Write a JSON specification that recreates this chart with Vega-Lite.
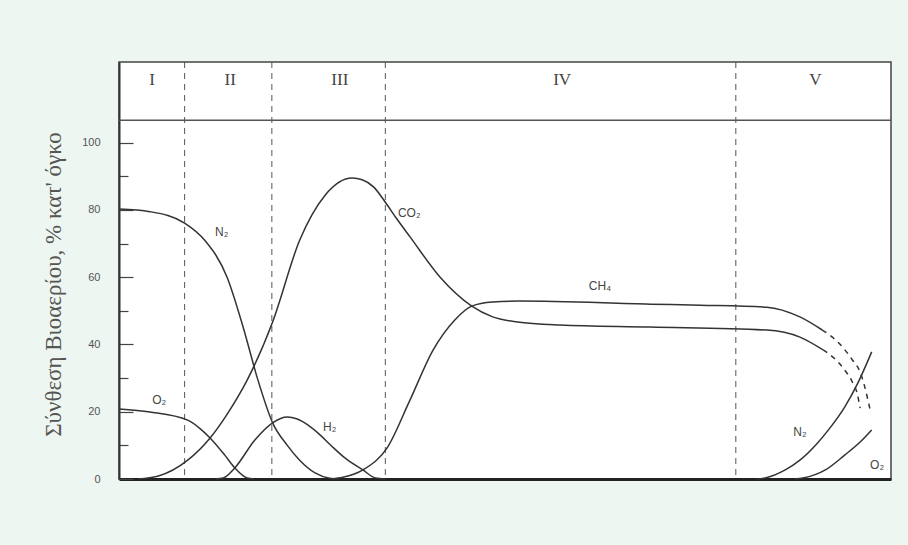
{
  "$schema": "https://vega.github.io/schema/vega-lite/v6.json",
  "width": 772,
  "height": 417,
  "autosize": {"type": "none"},
  "padding": {"left": 119, "top": 62, "right": 17, "bottom": 66},
  "background": "#edf6f0",
  "config": {
    "view": {"stroke": "#444", "strokeWidth": 1.5, "fill": "white"},
    "axis": {"grid": false},
    "axisX": {"labels": false, "ticks": false, "domainWidth": 3, "domainColor": "#222", "title": null},
    "axisY": {"domainWidth": 2, "domainColor": "#333", "labelColor": "#555", "labelFont": "Liberation Sans", "labelFontSize": 11, "tickColor": "#444", "tickWidth": 1.2}
  },
  "datasets": {
    "curves": [
      {"curve": "O2 start", "part": "measured", "x": 0, "y": 20.8},
      {"curve": "O2 start", "part": "measured", "x": 4, "y": 19.9},
      {"curve": "O2 start", "part": "measured", "x": 8.9, "y": 17.5},
      {"curve": "O2 start", "part": "measured", "x": 10.5, "y": 15.0},
      {"curve": "O2 start", "part": "measured", "x": 11.8, "y": 12.2},
      {"curve": "O2 start", "part": "measured", "x": 13.7, "y": 7.1},
      {"curve": "O2 start", "part": "measured", "x": 15.0, "y": 3.3},
      {"curve": "O2 start", "part": "measured", "x": 16.6, "y": 0.3},
      {"curve": "O2 start", "part": "measured", "x": 17.5, "y": 0},

      {"curve": "N2 start", "part": "measured", "x": 0, "y": 80.3},
      {"curve": "N2 start", "part": "measured", "x": 4, "y": 79.5},
      {"curve": "N2 start", "part": "measured", "x": 8.5, "y": 76.1},
      {"curve": "N2 start", "part": "measured", "x": 11.1, "y": 71},
      {"curve": "N2 start", "part": "measured", "x": 14.0, "y": 60},
      {"curve": "N2 start", "part": "measured", "x": 16.1, "y": 45},
      {"curve": "N2 start", "part": "measured", "x": 18.0, "y": 29.4},
      {"curve": "N2 start", "part": "measured", "x": 19.9, "y": 16.7},
      {"curve": "N2 start", "part": "measured", "x": 21.8, "y": 10},
      {"curve": "N2 start", "part": "measured", "x": 23.4, "y": 5.6},
      {"curve": "N2 start", "part": "measured", "x": 25.4, "y": 1.8},
      {"curve": "N2 start", "part": "measured", "x": 27.3, "y": 0.2},
      {"curve": "N2 start", "part": "measured", "x": 28.5, "y": 0},

      {"curve": "CO2", "part": "measured", "x": 2.5, "y": 0},
      {"curve": "CO2", "part": "measured", "x": 5, "y": 0.8},
      {"curve": "CO2", "part": "measured", "x": 8.9, "y": 5.6},
      {"curve": "CO2", "part": "measured", "x": 11.8, "y": 12.2},
      {"curve": "CO2", "part": "measured", "x": 14.1, "y": 19.6},
      {"curve": "CO2", "part": "measured", "x": 16.6, "y": 29.4},
      {"curve": "CO2", "part": "measured", "x": 19.9, "y": 46.7},
      {"curve": "CO2", "part": "measured", "x": 23.4, "y": 71},
      {"curve": "CO2", "part": "measured", "x": 26.7, "y": 84.4},
      {"curve": "CO2", "part": "measured", "x": 30.2, "y": 89.5},
      {"curve": "CO2", "part": "measured", "x": 31.5, "y": 89.0},
      {"curve": "CO2", "part": "measured", "x": 33.0, "y": 86.8},
      {"curve": "CO2", "part": "measured", "x": 34.5, "y": 82.3},
      {"curve": "CO2", "part": "measured", "x": 36.0, "y": 77.3},
      {"curve": "CO2", "part": "measured", "x": 37.7, "y": 72},
      {"curve": "CO2", "part": "measured", "x": 41.6, "y": 60},
      {"curve": "CO2", "part": "measured", "x": 45.7, "y": 51.4},
      {"curve": "CO2", "part": "measured", "x": 48.4, "y": 48.2},
      {"curve": "CO2", "part": "measured", "x": 51.6, "y": 46.7},
      {"curve": "CO2", "part": "measured", "x": 57.1, "y": 45.8},
      {"curve": "CO2", "part": "measured", "x": 68.8, "y": 45.2},
      {"curve": "CO2", "part": "measured", "x": 83.9, "y": 44.3},
      {"curve": "CO2", "part": "measured", "x": 88.2, "y": 42.2},
      {"curve": "CO2", "part": "measured", "x": 91.2, "y": 38.4},
      {"curve": "CO2", "part": "extrapolated", "x": 91.2, "y": 38.4},
      {"curve": "CO2", "part": "extrapolated", "x": 92.6, "y": 36.0},
      {"curve": "CO2", "part": "extrapolated", "x": 93.8, "y": 33.0},
      {"curve": "CO2", "part": "extrapolated", "x": 95.0, "y": 28.8},
      {"curve": "CO2", "part": "extrapolated", "x": 95.6, "y": 25.6},
      {"curve": "CO2", "part": "extrapolated", "x": 96.0, "y": 21.1},

      {"curve": "H2", "part": "measured", "x": 12.5, "y": 0},
      {"curve": "H2", "part": "measured", "x": 13.5, "y": 0.3},
      {"curve": "H2", "part": "measured", "x": 15.0, "y": 3.3},
      {"curve": "H2", "part": "measured", "x": 17.6, "y": 11.6},
      {"curve": "H2", "part": "measured", "x": 19.9, "y": 16.7},
      {"curve": "H2", "part": "measured", "x": 21.8, "y": 18.4},
      {"curve": "H2", "part": "measured", "x": 23.0, "y": 17.9},
      {"curve": "H2", "part": "measured", "x": 24.5, "y": 16.0},
      {"curve": "H2", "part": "measured", "x": 26.0, "y": 13.2},
      {"curve": "H2", "part": "measured", "x": 27.5, "y": 9.9},
      {"curve": "H2", "part": "measured", "x": 29.3, "y": 6.2},
      {"curve": "H2", "part": "measured", "x": 31.6, "y": 2.7},
      {"curve": "H2", "part": "measured", "x": 33.2, "y": 0.3},
      {"curve": "H2", "part": "measured", "x": 34.5, "y": 0},

      {"curve": "CH4", "part": "measured", "x": 27.5, "y": 0},
      {"curve": "CH4", "part": "measured", "x": 29.0, "y": 0.5},
      {"curve": "CH4", "part": "measured", "x": 31.6, "y": 2.7},
      {"curve": "CH4", "part": "measured", "x": 34.8, "y": 9.5},
      {"curve": "CH4", "part": "measured", "x": 37.6, "y": 23},
      {"curve": "CH4", "part": "measured", "x": 40.7, "y": 38.4},
      {"curve": "CH4", "part": "measured", "x": 43.5, "y": 47.3},
      {"curve": "CH4", "part": "measured", "x": 45.7, "y": 51.4},
      {"curve": "CH4", "part": "measured", "x": 48.4, "y": 52.6},
      {"curve": "CH4", "part": "measured", "x": 51.9, "y": 52.9},
      {"curve": "CH4", "part": "measured", "x": 68.8, "y": 52.0},
      {"curve": "CH4", "part": "measured", "x": 75.3, "y": 51.7},
      {"curve": "CH4", "part": "measured", "x": 83.9, "y": 51.1},
      {"curve": "CH4", "part": "measured", "x": 88.2, "y": 48.2},
      {"curve": "CH4", "part": "measured", "x": 91.1, "y": 44.3},
      {"curve": "CH4", "part": "extrapolated", "x": 91.1, "y": 44.3},
      {"curve": "CH4", "part": "extrapolated", "x": 92.4, "y": 42.2},
      {"curve": "CH4", "part": "extrapolated", "x": 93.7, "y": 39.3},
      {"curve": "CH4", "part": "extrapolated", "x": 95.0, "y": 35.4},
      {"curve": "CH4", "part": "extrapolated", "x": 96.0, "y": 31.8},
      {"curve": "CH4", "part": "extrapolated", "x": 96.6, "y": 27.4},
      {"curve": "CH4", "part": "extrapolated", "x": 97.3, "y": 20.5},

      {"curve": "N2 end", "part": "measured", "x": 82.5, "y": 0},
      {"curve": "N2 end", "part": "measured", "x": 83.7, "y": 0.3},
      {"curve": "N2 end", "part": "measured", "x": 86.3, "y": 2.7},
      {"curve": "N2 end", "part": "measured", "x": 88.2, "y": 5.6},
      {"curve": "N2 end", "part": "measured", "x": 90.4, "y": 10.5},
      {"curve": "N2 end", "part": "measured", "x": 92.1, "y": 15.2},
      {"curve": "N2 end", "part": "measured", "x": 94.0, "y": 21.4},
      {"curve": "N2 end", "part": "measured", "x": 95.7, "y": 28.5},
      {"curve": "N2 end", "part": "measured", "x": 97.5, "y": 37.8},

      {"curve": "O2 end", "part": "measured", "x": 87.5, "y": 0},
      {"curve": "O2 end", "part": "measured", "x": 88.6, "y": 0.3},
      {"curve": "O2 end", "part": "measured", "x": 91.5, "y": 2.7},
      {"curve": "O2 end", "part": "measured", "x": 94.0, "y": 7.1},
      {"curve": "O2 end", "part": "measured", "x": 96.0, "y": 11.0},
      {"curve": "O2 end", "part": "measured", "x": 97.5, "y": 14.6}
    ],
    "gasLabels": [
      {"label": "O₂", "x": 5.2, "y": 23.5},
      {"label": "N₂", "x": 13.3, "y": 73.4},
      {"label": "H₂", "x": 27.3, "y": 15.5},
      {"label": "CO₂", "x": 37.6, "y": 79.1},
      {"label": "CH₄", "x": 62.3, "y": 57.4},
      {"label": "N₂", "x": 88.2, "y": 14.0},
      {"label": "O₂", "x": 98.2, "y": 4.2}
    ],
    "phases": [
      {"phase": "I", "x": 4.3, "y": 118.6},
      {"phase": "II", "x": 14.4, "y": 118.6},
      {"phase": "III", "x": 28.6, "y": 118.6},
      {"phase": "IV", "x": 57.4, "y": 118.6},
      {"phase": "V", "x": 90.2, "y": 118.6}
    ],
    "boundaries": [
      {"boundary": 8.5},
      {"boundary": 19.8},
      {"boundary": 34.5},
      {"boundary": 79.9}
    ],
    "header": [{"level": 106.7}]
  },
  "layer": [
    {
      "data": {"name": "boundaries"},
      "mark": {"type": "rule", "strokeDash": [6, 5], "color": "#555", "strokeWidth": 1},
      "encoding": {
        "x": {"field": "boundary", "type": "quantitative", "scale": {"domain": [0, 100], "nice": false, "zero": false}, "title": null}
      }
    },
    {
      "data": {"name": "header"},
      "mark": {"type": "rule", "color": "#555", "strokeWidth": 1.5},
      "encoding": {
        "y": {"field": "level", "type": "quantitative", "scale": {"domain": [0, 124], "nice": false}, "title": "Σύνθεση Βιοαερίου, % κατ' όγκο"}
      }
    },
    {
      "data": {"name": "curves"},
      "transform": [{"filter": "datum.part === 'measured'"}],
      "mark": {"type": "line", "interpolate": "monotone", "color": "#333", "strokeWidth": 1.5},
      "encoding": {
        "x": {"field": "x", "type": "quantitative", "scale": {"domain": [0, 100], "nice": false, "zero": false}, "title": null},
        "y": {
          "field": "y", "type": "quantitative", "scale": {"domain": [0, 124], "nice": false},
          "title": "Σύνθεση Βιοαερίου, % κατ' όγκο",
          "axis": {
            "values": [0, 10, 20, 30, 40, 50, 60, 70, 80, 90, 100],
            "labelExpr": "datum.value % 20 === 0 ? datum.label : ''",
            "tickSize": {"condition": {"test": "datum.value % 20 === 0", "value": -14}, "value": -9},
            "labelPadding": 33,
            "titleFont": "Liberation Serif",
            "titleFontSize": 23,
            "titleFontWeight": "normal",
            "titleColor": "#555",
            "titleX": -54,
            "titleY": 222
          }
        },
        "detail": {"field": "curve", "type": "nominal"}
      }
    },
    {
      "data": {"name": "curves"},
      "transform": [{"filter": "datum.part === 'extrapolated'"}],
      "mark": {"type": "line", "interpolate": "monotone", "color": "#333", "strokeWidth": 1.5, "strokeDash": [5, 5]},
      "encoding": {
        "x": {"field": "x", "type": "quantitative", "scale": {"domain": [0, 100], "nice": false, "zero": false}, "title": null},
        "y": {"field": "y", "type": "quantitative", "scale": {"domain": [0, 124], "nice": false}, "title": "Σύνθεση Βιοαερίου, % κατ' όγκο"},
        "detail": {"field": "curve", "type": "nominal"}
      }
    },
    {
      "data": {"name": "gasLabels"},
      "mark": {"type": "text", "font": "Liberation Sans", "fontSize": 12, "color": "#444"},
      "encoding": {
        "x": {"field": "x", "type": "quantitative", "scale": {"domain": [0, 100], "nice": false, "zero": false}, "title": null},
        "y": {"field": "y", "type": "quantitative", "scale": {"domain": [0, 124], "nice": false}, "title": "Σύνθεση Βιοαερίου, % κατ' όγκο"},
        "text": {"field": "label", "type": "nominal"}
      }
    },
    {
      "data": {"name": "phases"},
      "mark": {"type": "text", "font": "Liberation Serif", "fontSize": 17, "color": "#444"},
      "encoding": {
        "x": {"field": "x", "type": "quantitative", "scale": {"domain": [0, 100], "nice": false, "zero": false}, "title": null},
        "y": {"field": "y", "type": "quantitative", "scale": {"domain": [0, 124], "nice": false}, "title": "Σύνθεση Βιοαερίου, % κατ' όγκο"},
        "text": {"field": "phase", "type": "nominal"}
      }
    }
  ]
}
